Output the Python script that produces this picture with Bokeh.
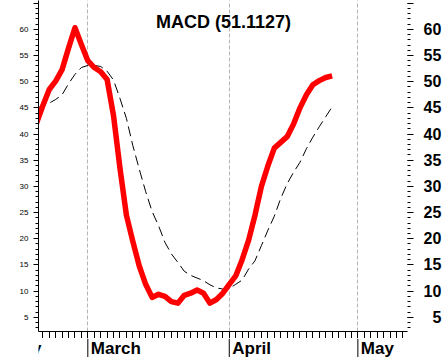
from bokeh.plotting import figure
from bokeh.models import LinearAxis, FixedTicker, Label, Range1d
from bokeh.layouts import column
from bokeh.core.properties import value
from bokeh.embed import file_html
from bokeh.resources import INLINE

# Trading-day index (0 = first trading day of March)
day_index = list(range(-8, 39))
macd = [42.0, 45.4, 48.5, 50.1, 52.3, 56.4, 60.3, 57.1,
        54.0, 52.7, 51.9, 50.4, 43.5, 33.5, 24.5, 19.5, 14.8, 11.3,
        8.8, 9.4, 9.0, 8.0, 7.7, 9.2, 9.6, 10.2, 9.6, 7.7,
        8.4, 9.6, 11.3, 12.9, 16.0, 19.7, 24.5, 30.0, 33.9, 37.3,
        38.4, 39.5, 41.9, 45.0, 47.5, 49.4, 50.2, 50.8, 51.1127]
signal = [45.0, 45.3, 45.9, 46.6, 47.5, 49.6, 51.4, 52.7,
          53.1, 53.1, 52.9, 52.0, 50.3, 46.8, 43.0, 37.8, 33.3, 29.0,
          25.2, 22.5, 19.3, 17.1, 15.5, 13.8, 13.0, 12.5, 12.0, 11.2,
          10.6, 10.4, 10.5, 11.3, 12.1, 14.2, 15.8, 18.7, 21.6, 24.3,
          27.7, 30.5, 32.7, 34.6, 37.2, 39.4, 41.4, 43.3, 45.2]
month_starts = [-19, 0, 22, 42]
month_names = ["February", "March", "April", "May"]
y_ticks = list(range(5, 66, 5))
y_minor = list(range(3, 66))
day_ticks = list(range(-8, 50))
title_text = "MACD (51.1127)"

xr = Range1d(-7.67, 49.72)

p = figure(width=445, height=338, x_range=xr, y_range=Range1d(2.29, 65.5),
           output_backend="svg", toolbar_location=None,
           min_border_left=38, min_border_right=38, min_border_top=0, min_border_bottom=7)
p.outline_line_color = None
p.background_fill_color = "white"
p.border_fill_color = "white"

# x axis: a tick for every trading day
xa = p.xaxis[0]
xa.ticker = FixedTicker(ticks=[], minor_ticks=day_ticks)
xa.major_tick_out = 0
xa.major_tick_in = 0
xa.minor_tick_out = 7
xa.minor_tick_in = 0
xa.major_label_standoff = 0
xa.axis_line_color = "black"
xa.minor_tick_line_color = "black"

p.xgrid.ticker = FixedTicker(ticks=month_starts)
p.xgrid.grid_line_color = "#b4b4b4"
p.xgrid.grid_line_dash = "4 2"
p.ygrid.visible = False

# left axis
ya = p.yaxis[0]
ya.ticker = FixedTicker(ticks=y_ticks, minor_ticks=y_minor)
ya.major_tick_out = 5
ya.major_tick_in = 0
ya.minor_tick_out = 3
ya.minor_tick_in = 0
ya.major_label_standoff = 5
ya.major_label_text_font = "Liberation Sans"
ya.major_label_text_font_size = "8px"
ya.major_label_text_color = "black"
ya.major_label_overrides = {65: ""}
ya.axis_line_color = "black"

# right axis
ra = LinearAxis(ticker=FixedTicker(ticks=y_ticks, minor_ticks=y_minor))
ra.major_tick_out = 6
ra.major_tick_in = 0
ra.minor_tick_out = 3
ra.minor_tick_in = 0
ra.axis_line_color = None
ra.major_label_standoff = 10
ra.major_label_text_font = "Liberation Sans"
ra.major_label_text_font_size = "16px"
ra.major_label_text_font_style = "bold"
ra.major_label_text_color = "black"
ra.major_label_overrides = {65: "", 5: "\u20075"}
p.add_layout(ra, "right")

p.line(day_index, signal, line_color="black", line_width=1, line_dash="10 5")
p.line(day_index, macd, line_color="#ff0000", line_width=5.5, line_join="round")

p.add_layout(Label(x=21.1, y=61.3, text=title_text, text_align="center",
                   text_baseline="alphabetic", text_font="Liberation Sans",
                   text_font_size="18px", text_font_style="bold", text_color="black"))

# month strip below the axis
p2 = figure(width=445, height=19, x_range=xr, y_range=Range1d(0, 19),
            output_backend="svg", toolbar_location=None,
            x_axis_location=None, y_axis_location=None,
            min_border_left=38, min_border_right=38, min_border_top=0, min_border_bottom=0)
p2.outline_line_color = None
p2.xgrid.visible = False
p2.ygrid.visible = False
p2.background_fill_color = "white"
p2.border_fill_color = "white"
p2.segment(x0=month_starts, y0=[0] * len(month_starts), x1=month_starts,
           y1=[19] * len(month_starts), line_color="black", line_width=1)
p2.text(x=month_starts, y=[9.5] * len(month_starts), text=month_names, x_offset=3,
        text_align="left", text_baseline="middle", text_font=value("Liberation Sans"),
        text_font_size="17px", text_font_style="bold", text_color="black")

layout = column(p, p2, spacing=0)
open("out.html", "w").write(file_html(layout, INLINE))
